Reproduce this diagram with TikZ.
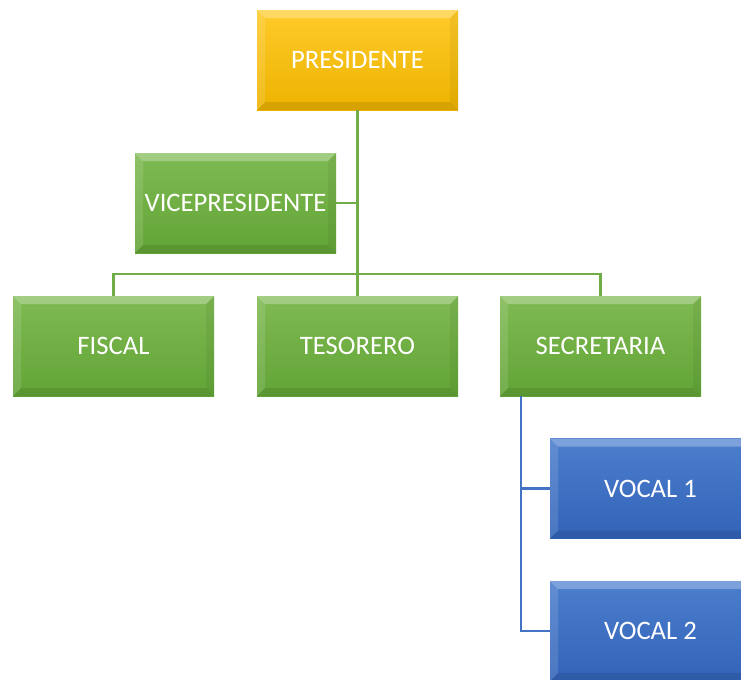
\documentclass[tikz,border=0pt]{standalone}
\usepackage{fontspec}
\setmainfont{Carlito}
\definecolor{ytop}{HTML}{FFCB2A}
\definecolor{ybot}{HTML}{EDB300}
\definecolor{gtop}{HTML}{7FBA53}
\definecolor{gbot}{HTML}{62A436}
\definecolor{btop}{HTML}{4C7ECD}
\definecolor{bbot}{HTML}{3263B8}
\definecolor{gline}{HTML}{70AD47}
\definecolor{bline}{HTML}{4472C4}
\tikzset{
  bevelbox/.style={rectangle, minimum width=150.75pt, minimum height=75pt, inner sep=0pt,
    font=\fontsize{20}{24}\selectfont, text=white,
    path picture={
      \fill[white,opacity=0.28] (path picture bounding box.north west) -- (path picture bounding box.north east) -- ([shift={(-6pt,-6pt)}]path picture bounding box.north east) -- ([shift={(6pt,-6pt)}]path picture bounding box.north west) -- cycle;
      \fill[white,opacity=0.12] (path picture bounding box.north west) -- ([shift={(6pt,-6pt)}]path picture bounding box.north west) -- ([shift={(6pt,6pt)}]path picture bounding box.south west) -- (path picture bounding box.south west) -- cycle;
      \fill[black,opacity=0.05] (path picture bounding box.north east) -- ([shift={(-6pt,-6pt)}]path picture bounding box.north east) -- ([shift={(-6pt,6pt)}]path picture bounding box.south east) -- (path picture bounding box.south east) -- cycle;
      \fill[black,opacity=0.09] (path picture bounding box.south west) -- ([shift={(6pt,6pt)}]path picture bounding box.south west) -- ([shift={(-6pt,6pt)}]path picture bounding box.south east) -- (path picture bounding box.south east) -- cycle;
    }},
  ybox/.style={bevelbox, top color=ytop, bottom color=ybot},
  gbox/.style={bevelbox, top color=gtop, bottom color=gbot},
  bbox/.style={bevelbox, top color=btop, bottom color=bbot},
  gconn/.style={draw=gline, line width=2pt},
  bconn/.style={draw=bline, line width=2pt},
}
\begin{document}
\begin{tikzpicture}[x=0.75pt,y=-0.75pt]
\useasboundingbox (0,0) rectangle (741,679);
\node[ybox] (pres) at (357.5,60) {PRESIDENTE};
\node[gbox] (vice) at (235.5,203) {VICEPRESIDENTE};
\node[gbox] (fis) at (113.5,346) {FISCAL};
\node[gbox] (tes) at (357.5,346) {TESORERO};
\node[gbox] (sec) at (600.5,346) {SECRETARIA};
\node[bbox] (v1) at (650.5,488.5) {VOCAL 1};
\node[bbox] (v2) at (650.5,631) {VOCAL 2};
\coordinate (j) at (357.5,274);
\coordinate (sb) at (521,396);
\draw[gconn] (pres.south) -- (j);
\draw[gconn] (vice.east) -- (vice.east -| pres.south);
\draw[gconn] (fis.north) |- (j) -| (sec.north);
\draw[gconn] (j) -- (tes.north);
\draw[bconn] (sb) |- (v2.west);
\draw[bconn] (sb |- v1.west) -- (v1.west);
\end{tikzpicture}
\end{document}
